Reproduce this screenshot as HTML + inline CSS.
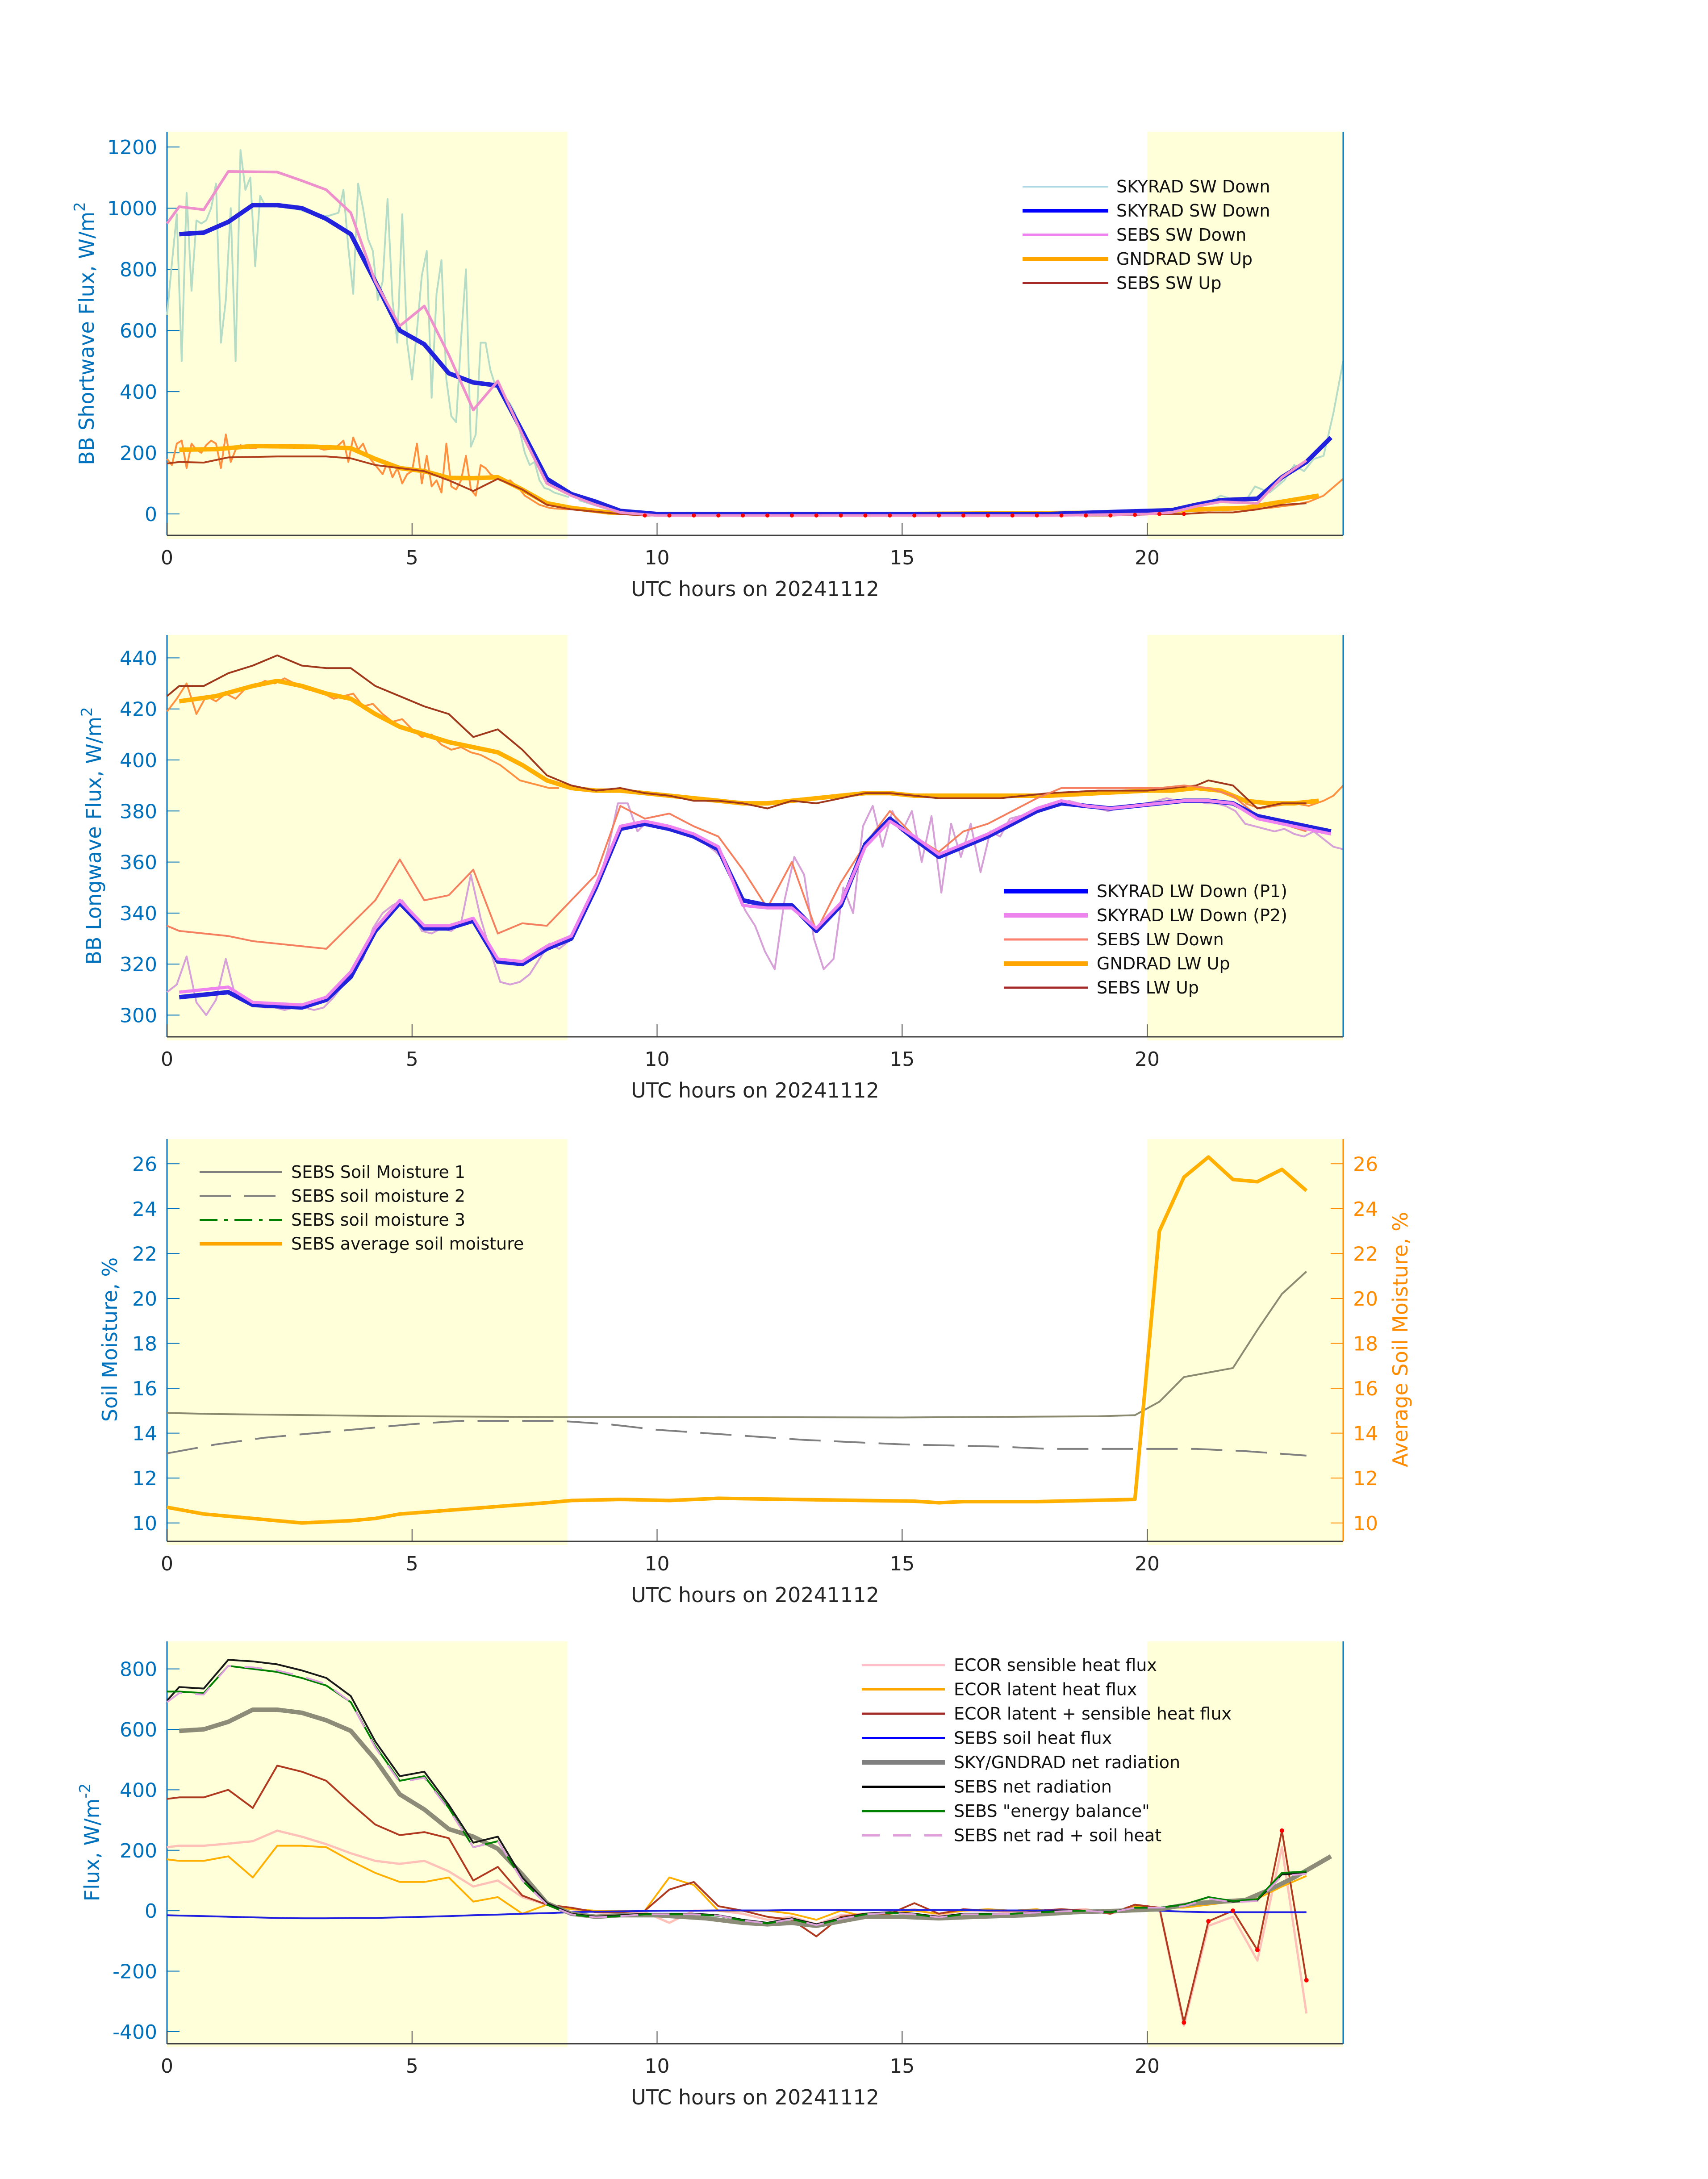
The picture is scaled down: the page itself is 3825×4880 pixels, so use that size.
<!DOCTYPE html>
<html><head><meta charset="utf-8"><style>
html,body{margin:0;padding:0;background:#fff;}
svg text{font-family:"DejaVu Sans","Liberation Sans",sans-serif;}
</style></head><body>
<svg id="fig" xmlns="http://www.w3.org/2000/svg" width="3825" height="4875" viewBox="0 0 3825 4875">
<rect width="3825" height="4875" fill="#fff"/>
</svg>
<script>
// ---------- Panel 1: shortwave ----------
const swRawStart = 0, swRawStep = 0.1;
const swRawV = [650,820,980,500,1050,730,960,950,960,1000,1080,560,700,1000,500,1190,1060,1100,810,1040,1010,1010,1005,1010,1010,1005,1000,995,990,985,980,980,975,975,980,985,1060,870,720,1080,1000,900,860,700,760,1030,700,560,980,560,440,600,780,860,380,720,830,440,320,300,570,800,220,260,560,560,470,420,410,380,360,330,270,200,160,170,110,85,80,70,65,60,55];
const swRawLateT = [8.4,8.7,9,9.5,10,15,20,20.5,21,21.3,21.5,21.8,22,22.2,22.5,22.8,23,23.2,23.4,23.6,23.8,24];
const swRawLateV = [45,30,15,5,0,0,0,5,15,40,60,45,40,90,70,110,160,140,180,190,330,500];
const skySwT = [0.25,0.75,1.25,1.75,2.25,2.75,3.25,3.75,4.25,4.75,5.25,5.75,6.25,6.75,7.25,7.75,8.25,8.75,9.25,10,12,14,16,18,19,20,20.5,21,21.5,22.25,22.75,23.25,23.75];
const skySwV = [915,920,955,1010,1010,1000,965,915,760,600,555,460,430,420,270,115,65,40,10,0,0,0,0,0,5,10,12,30,45,50,120,170,250];
const sebsSwDnT = [0,0.25,0.75,1.25,2.25,2.75,3.25,3.75,4.25,4.75,5.25,5.75,6.25,6.75,7.25,7.75,8.25,8.75,9.25,10,12,14,16,18,20,20.5,21,21.5,22.25,22.75,23.25];
const sebsSwDnV = [950,1005,995,1120,1118,1090,1060,985,760,615,680,520,340,435,260,100,60,30,5,-5,-5,-5,-5,-5,0,5,25,40,35,120,175];
const gndSwT = [0.25,1,1.75,3,3.75,4.25,4.75,5.25,5.75,6.25,6.75,7.25,7.75,8.25,9,10,15,20,21,22,22.75,23.5];
const gndSwV = [210,212,222,220,215,180,150,140,118,117,120,80,35,20,5,0,0,5,15,20,40,60];
const gndSwRawV = [180,160,230,240,150,230,210,200,225,240,230,150,260,170,210,225,220,215,215,220,220,220,218,218,220,220,215,215,215,218,218,215,210,212,215,225,240,170,250,210,230,190,170,150,130,170,120,150,100,130,140,230,100,190,90,110,70,230,90,80,110,190,80,60,160,150,130,120,110,105,110,95,80,60,50,40,30,25,20,18,17,16,15];
const gndSwRawLateT = [8.4,9,10,20,21,22,22.5,23,23.3,23.6,24];
const gndSwRawV2 = [12,5,0,0,10,15,20,30,40,60,115];
const sebsSwUpT = [0,0.25,0.75,1.25,2.25,3.25,3.75,4.25,4.75,5.25,5.75,6.25,6.75,7.25,7.75,8.25,9.25,9.75,10.25,10.75,11.25,11.75,12.25,12.75,13.25,13.75,14.25,14.75,15.25,15.75,16.25,16.75,17.25,17.75,18.25,18.75,19.25,19.75,20.25,20.75,21.25,21.75,22.25,22.75,23.25];
const sebsSwUpV = [165,170,168,185,188,188,182,160,150,140,110,75,115,80,30,15,0,-5,-5,-5,-5,-5,-5,-5,-5,-5,-5,-5,-5,-5,-5,-5,-5,-5,-5,-5,-5,-3,0,0,5,5,15,30,35];
const swTicks = [0,200,400,600,800,1000,1200];

// ---------- Panel 2: longwave ----------
const lwRawStep = 0.2;
const lwRawV = [309,312,323,305,300,306,322,307,305,304,303,303,302,303,303,302,303,307,312,318,322,334,340,343,345,340,333,332,334,333,336,355,338,325,313,312,313,316,322,328,326,329,336,345,352,365,383,383,372,376,374,373,372,371,369,367,364,360,350,341,335,325,318,345,362,355,330,318,322,350,340,374,382,366,380,372,380,360,378,348,375,362,375,356,372,370,377,378,378,380,382,382,384,383,382,381,380,381,382,382,383,384,385,384,384,384,383,383,382,380,375,374,373,372,373,371,370,372,369,366,365];
const skyLwT = [0.25,1.25,1.75,2.75,3.25,3.75,4.25,4.75,5.25,5.75,6.25,6.75,7.25,7.75,8.25,8.75,9.25,9.75,10.25,10.75,11.25,11.75,12.25,12.75,13.25,13.75,14.25,14.75,15.25,15.75,16.25,16.75,17.25,17.75,18.25,18.75,19.25,19.75,20.25,20.75,21.25,21.75,22.25,22.75,23.25,23.75];
const skyLwP1 = [307,309,304,303,306,315,333,344,334,334,337,321,320,326,330,350,373,375,373,370,365,345,343,343,333,343,367,377,369,362,366,370,375,380,383,382,381,382,383,384,384,383,378,376,374,372];
const skyLwP2 = [309,311,305,304,307,317,334,345,335,335,338,322,321,327,331,351,374,376,374,371,366,343,342,342,334,344,366,376,370,363,367,371,376,381,384,382,381,382,383,384,384,383,377,375,373,371];
const sebsLwDnT = [0,0.25,1.25,1.75,2.75,3.25,4.25,4.75,5.25,5.75,6.25,6.75,7.25,7.75,8.25,8.75,9.25,9.75,10.25,10.75,11.25,11.75,12.25,12.75,13.25,13.75,14.25,14.75,15.25,15.75,16.25,16.75,17.25,17.75,18.25,18.75,19.25,20.25,20.75,21.25,21.75,22.25,22.75,23.25];
const sebsLwDnV = [335,333,331,329,327,326,345,361,345,347,357,332,336,335,345,355,382,377,379,374,370,357,342,360,333,352,367,380,370,364,372,375,380,385,389,389,389,389,390,389,386,378,375,372];
const gndLwT = [0.25,1,1.75,2.25,2.75,3.25,3.75,4.25,4.75,5.25,5.75,6.25,6.75,7.25,7.75,8.25,8.75,9.25,9.75,10.25,10.75,11.25,11.75,12.25,12.75,13.25,13.75,14.25,14.75,15.25,15.75,16.25,17,18,19,20,20.5,21,21.5,22,22.5,23,23.5];
const gndLwV = [423,425,429,431,429,426,424,418,413,410,407,405,403,398,392,389,388,388,387,386,385,384,383,383,384,385,386,387,387,386,386,386,386,386,387,388,388,389,388,384,383,383,384];
const gndLwRawV = [419,424,430,418,425,423,426,424,428,429,431,430,432,430,428,427,426,424,425,426,421,422,418,415,416,412,409,410,406,404,405,403,402,400,398,395,392,391,390,389,389];
const gndLwRawLateT = [22,22.3,22.6,23,23.3,23.6,23.8,24];
const gndLwRawLateV = [383,381,382,383,382,384,386,390];
const sebsLwUpT = [0,0.25,0.75,1.25,1.75,2.25,2.75,3.25,3.75,4.25,4.75,5.25,5.75,6.25,6.75,7.25,7.75,8.25,8.75,9.25,9.75,10.25,10.75,11.25,11.75,12.25,12.75,13.25,13.75,14.25,14.75,15.25,15.75,16.25,17,18,19,20,21,21.25,21.75,22.25,22.75,23.25];
const sebsLwUpV = [425,429,429,434,437,441,437,436,436,429,425,421,418,409,412,404,394,390,388,389,387,386,384,384,383,381,384,383,385,387,387,386,385,385,385,387,388,388,390,392,390,381,383,383];
const lwTicks = [300,320,340,360,380,400,420,440];

// ---------- Panel 3: soil moisture ----------
const soil1T = [0,1,3,5,8,10,15,19,19.75,20.25,20.75,21.25,21.75,22.25,22.75,23.25];
const soil1V = [14.9,14.85,14.8,14.75,14.72,14.72,14.7,14.75,14.8,15.4,16.5,16.7,16.9,18.6,20.2,21.2];
const soil2T = [0,1,2,3,4,5,6,7,8,9,10,11,12,13,14,15,16,17,18,19,20,21,22,23.25];
const soil2V = [13.1,13.5,13.8,14.0,14.2,14.4,14.55,14.55,14.55,14.4,14.15,14.0,13.85,13.7,13.6,13.5,13.45,13.4,13.3,13.3,13.3,13.3,13.2,13.0];
const soilAvgT = [0,0.75,1.75,2.75,3.75,4.25,4.75,6.25,7.75,8.25,9.25,10.25,11.25,12.75,14.25,15.25,15.75,16.25,17.75,18.75,19.75,20.25,20.75,21.25,21.75,22.25,22.75,23.25];
const soilAvgV = [10.7,10.4,10.2,10.0,10.1,10.2,10.4,10.65,10.9,11.0,11.05,11.0,11.1,11.05,11.0,10.97,10.9,10.95,10.95,11.0,11.05,23.0,25.4,26.3,25.3,25.2,25.75,24.8];
const soilTicks = [10,12,14,16,18,20,22,24,26];

// ---------- Panel 4: energy fluxes ----------
const fluxT = [0,0.25,0.75,1.25,1.75,2.25,2.75,3.25,3.75,4.25,4.75,5.25,5.75,6.25,6.75,7.25,7.75,8.25,8.75,9.25,9.75,10.25,10.75,11.25,11.75,12.25,12.75,13.25,13.75,14.25,14.75,15.25,15.75,16.25,16.75,17.25,17.75,18.25,18.75,19.25,19.75,20.25,20.75,21.25,21.75,22.25,22.75,23.25];
const ecorSens = [210,215,215,222,230,265,245,220,190,165,155,165,130,80,100,45,20,5,-5,-10,-5,-40,0,0,-10,-30,-20,-45,-15,-10,-5,5,-15,0,0,-5,-5,0,5,-10,10,10,-380,-50,-20,-165,210,-340];
const ecorLat = [170,165,165,180,110,215,215,210,165,125,95,95,110,30,45,-10,20,5,0,0,0,110,85,0,0,0,-10,-30,0,-20,-10,0,-10,0,5,0,5,-10,0,-5,15,10,10,20,30,40,80,115];
const ecorSum = [370,375,375,400,340,480,460,430,355,285,250,260,240,100,145,50,20,10,-5,-5,0,70,95,15,0,-20,-30,-85,-20,-10,-10,25,-10,5,0,0,0,5,0,-10,20,10,-370,-35,0,-130,265,-230];
const soilHeat = [-15,-16,-18,-20,-22,-24,-25,-25,-24,-24,-22,-20,-18,-15,-13,-10,-8,-5,-3,-2,-1,0,0,1,1,1,2,2,2,2,2,2,2,2,1,1,1,1,0,0,0,0,-3,-5,-5,-5,-5,-5];
const sebsNet = [695,740,735,830,825,815,795,770,710,560,445,460,350,225,245,110,25,-10,-20,-15,-10,-10,-10,-15,-30,-40,-25,-45,-25,-10,-5,-10,-20,-10,-10,-10,-5,0,0,-5,10,10,20,45,30,35,120,125];
const energyBal = [725,725,720,810,800,790,770,745,690,545,430,445,340,210,230,100,20,-12,-22,-18,-12,-12,-12,-17,-32,-42,-28,-48,-27,-12,-7,-12,-22,-12,-12,-10,-6,-2,0,-6,10,10,20,45,32,38,125,130];
const netPlusSoil = [690,720,715,810,805,795,775,750,690,540,425,440,335,210,230,100,20,-12,-22,-18,-12,-12,-12,-16,-32,-42,-28,-48,-27,-12,-7,-12,-22,-12,-12,-10,-6,-2,0,-6,10,10,15,40,28,32,115,122];
const netRadT = [0.25,0.75,1.25,1.75,2.25,2.75,3.25,3.75,4.25,4.75,5.25,5.75,6.25,6.75,7.25,7.75,8.25,8.75,9.25,10,11,11.75,12.25,12.75,13.25,13.75,14.25,15,15.75,16.5,17.5,18.5,19.5,20.25,21,21.5,22,22.5,23,23.75];
const netRadV = [595,600,625,665,665,655,630,595,500,385,335,270,245,205,120,25,-10,-20,-15,-15,-25,-40,-45,-40,-50,-35,-20,-20,-25,-20,-15,-5,0,5,25,30,35,70,110,180];
const fluxTicks = [-400,-200,0,200,400,600,800];
const xTicks = [0,5,10,15,20];

// ---------- drawing ----------
const NS = 'http://www.w3.org/2000/svg';
const svg = document.getElementById('fig');
const L = 374, R = 3008;
const BLUE = '#0072BD';
function X(t){ return L + (R - L) * t / 24; }
function mk(tag, attrs, parent){
  const e = document.createElementNS(NS, tag);
  for (const k in attrs) e.setAttribute(k, attrs[k]);
  (parent || svg).appendChild(e);
  return e;
}
function makeY(top, bot, vmin, vmax){ return v => bot - (v - vmin) / (vmax - vmin) * (bot - top); }
function series(g, ts, vs, Y, color, w, name, dash){
  let d = '';
  for (let i = 0; i < ts.length && i < vs.length; i++){
    d += (i ? 'L' : 'M') + X(ts[i]).toFixed(1) + ' ' + Y(vs[i]).toFixed(1);
  }
  const p = mk('path', {d: d, fill: 'none', stroke: color, 'stroke-width': w, 'stroke-linejoin': 'round'}, g);
  if (dash) p.setAttribute('stroke-dasharray', dash);
  
  
  return p;
}
function stepTimes(start, step, n){ const a = []; for (let i = 0; i < n; i++) a.push(start + i * step); return a; }

function panel(name, top, bot, vmin, vmax, ticks){
  const g = mk('g', {});
  
  
  const Y = makeY(top, bot, vmin, vmax);
  const s1 = mk('rect', {x: X(0), y: top, width: X(8.17) - X(0), height: bot - top + 8, fill: '#FFFFDA'}, g);
  
  
  const s2 = mk('rect', {x: X(20), y: top, width: X(24) - X(20), height: bot - top + 8, fill: '#FFFFDA'}, g);
  
  
  const ax = mk('line', {x1: L, y1: bot, x2: R, y2: bot, stroke: '#404040', 'stroke-width': 3}, g);
  
  
  const ay = mk('line', {x1: L, y1: top, x2: L, y2: bot, stroke: BLUE, 'stroke-width': 3}, g);
  
  
  ticks.forEach(v => {
    const y = Y(v);
    const tk = mk('line', {x1: L, y1: y, x2: L + 28, y2: y, stroke: BLUE, 'stroke-width': 2}, g);
    
    
    const tl = mk('text', {x: L - 22, y: y + 16, 'text-anchor': 'end', 'font-size': 44, fill: BLUE}, g);
    tl.textContent = v;
    
    
  });
  xTicks.forEach(t => {
    const x = X(t);
    const tk = mk('line', {x1: x, y1: bot, x2: x, y2: bot - 28, stroke: '#404040', 'stroke-width': 2}, g);
    
    
    const tl = mk('text', {x: x, y: bot + 65, 'text-anchor': 'middle', 'font-size': 44, fill: '#262626'}, g);
    tl.textContent = t;
    
    
  });
  const xl = mk('text', {x: (L + R) / 2, y: bot + 136, 'text-anchor': 'middle', 'font-size': 46, fill: '#262626'}, g);
  xl.textContent = 'UTC hours on 20241112';
  
  
  return {g: g, Y: Y};
}
function rightAxis(g, top, bot, color){
  const a = mk('line', {x1: R, y1: top, x2: R, y2: bot, stroke: color, 'stroke-width': 3}, g);
  
  
}
function ylab(g, x, yc, main, sup, color){
  const t = mk('text', {x: 0, y: 0, 'text-anchor': 'middle', 'font-size': 46, fill: color || BLUE, transform: 'translate(' + x + ',' + yc + ') rotate(-90)'}, g);
  t.textContent = main;
  if (sup){
    const s = mk('tspan', {dy: -20, 'font-size': 34}, t);
    s.textContent = sup;
  }
  
  
  return t;
}
function legend(g, x0, x1, xt, y0, dy, items){
  items.forEach((it, i) => {
    const y = y0 + i * dy;
    const ln = mk('line', {x1: x0, y1: y, x2: x1, y2: y, stroke: it[1], 'stroke-width': it[2]}, g);
    if (it[3]) ln.setAttribute('stroke-dasharray', it[3]);
    
    
    const tx = mk('text', {x: xt, y: y + 13, 'font-size': 38, fill: '#111'}, g);
    tx.textContent = it[0];
    
    
  });
}
function dots(g, ts, vs, Y, tmin, tmax, r){
  for (let i = 0; i < ts.length; i++){
    if (ts[i] < tmin || ts[i] > tmax) continue;
    const c = mk('circle', {cx: X(ts[i]), cy: Y(vs[i]), r: r, fill: '#FF0000'}, g);
    
    
  }
}

// Panel 1
{
  const top = 295, bot = 1199;
  const p = panel('shortwave-panel', top, bot, -70, 1250, swTicks);
  const g = p.g, Y = p.Y;
  series(g, stepTimes(swRawStart, swRawStep, swRawV.length), swRawV, Y, '#B5DCC6', 4, 'skyrad-sw-down-raw');
  series(g, swRawLateT, swRawLateV, Y, '#B5DCC6', 4, 'skyrad-sw-down-raw-late');
  series(g, stepTimes(0, 0.1, gndSwRawV.length), gndSwRawV, Y, '#FF9040', 4, 'gndrad-sw-up-raw');
  series(g, gndSwRawLateT, gndSwRawV2, Y, '#FF9040', 4, 'gndrad-sw-up-raw-late');
  series(g, gndSwT, gndSwV, Y, '#FFB000', 10, 'gndrad-sw-up');
  series(g, sebsSwUpT, sebsSwUpV, Y, '#B0401C', 4, 'sebs-sw-up');
  series(g, skySwT, skySwV, Y, '#2222DD', 10, 'skyrad-sw-down');
  series(g, sebsSwDnT, sebsSwDnV, Y, '#EE90CC', 6, 'sebs-sw-down');
  dots(g, sebsSwUpT, sebsSwUpV, Y, 9.5, 21, 4.5);
  rightAxis(g, top, bot, BLUE);
  ylab(g, 210, 747, 'BB Shortwave Flux, W/m', '2');
  legend(g, 2290, 2482, 2500, 418, 54, [
    ['SKYRAD SW Down', '#ADD8E6', 4], ['SKYRAD SW Down', '#0000FF', 8], ['SEBS SW Down', '#EE82EE', 6],
    ['GNDRAD SW Up', '#FFA500', 8], ['SEBS SW Up', '#A52A2A', 4]]);
}
// Panel 2
{
  const top = 1422, bot = 2322;
  const p = panel('longwave-panel', top, bot, 291.5, 449, lwTicks);
  const g = p.g, Y = p.Y;
  const rt = stepTimes(0, lwRawStep, lwRawV.length);
  series(g, rt, lwRawV, Y, '#B5DCC6', 4, 'skyrad-lw-down-raw-p1');
  series(g, rt, lwRawV, Y, '#D8A0D8', 4, 'skyrad-lw-down-raw-p2');
  series(g, stepTimes(0, 0.2, gndLwRawV.length), gndLwRawV, Y, '#FF9040', 4, 'gndrad-lw-up-raw');
  series(g, gndLwRawLateT, gndLwRawLateV, Y, '#FF9040', 4, 'gndrad-lw-up-raw-late');
  series(g, gndLwT, gndLwV, Y, '#FFB000', 10, 'gndrad-lw-up');
  series(g, sebsLwUpT, sebsLwUpV, Y, '#A0381C', 4, 'sebs-lw-up');
  series(g, sebsLwDnT, sebsLwDnV, Y, '#F58060', 4, 'sebs-lw-down');
  series(g, skyLwT, skyLwP1, Y, '#2222DD', 10, 'skyrad-lw-down-p1');
  series(g, skyLwT, skyLwP2, Y, '#EE82EE', 7, 'skyrad-lw-down-p2');
  rightAxis(g, top, bot, BLUE);
  ylab(g, 226, 1872, 'BB Longwave Flux, W/m', '2');
  legend(g, 2248, 2436, 2456, 1996, 54, [
    ['SKYRAD LW Down (P1)', '#0000FF', 10], ['SKYRAD LW Down (P2)', '#EE82EE', 10], ['SEBS LW Down', '#FA8072', 5],
    ['GNDRAD LW Up', '#FFA500', 10], ['SEBS LW Up', '#A52A2A', 5]]);
}
// Panel 3
{
  const top = 2551, bot = 3452;
  const p = panel('soil-moisture-panel', top, bot, 9.18, 27.1, soilTicks);
  const g = p.g, Y = p.Y;
  series(g, soil1T, soil1V, Y, '#8A8A70', 4, 'sebs-soil-moisture-1');
  series(g, soil2T, soil2V, Y, '#808080', 4, 'sebs-soil-moisture-2', '70 30');
  series(g, soilAvgT, soilAvgV, Y, '#FFB000', 8, 'sebs-average-soil-moisture');
  rightAxis(g, top, bot, '#FF8C00');
  soilTicks.forEach(v => {
    const y = Y(v);
    const tk = mk('line', {x1: R, y1: y, x2: R - 28, y2: y, stroke: '#FF8C00', 'stroke-width': 2}, g);
    
    
    const tl = mk('text', {x: R + 22, y: y + 16, 'font-size': 44, fill: '#FF8C00'}, g);
    tl.textContent = v;
    
    
  });
  ylab(g, 262, 3000, 'Soil Moisture, %');
  const r = ylab(g, 3152, 3000, 'Average Soil Moisture, %', null, '#FF8C00');
  
  legend(g, 447, 632, 652, 2625, 53.5, [
    ['SEBS Soil Moisture 1', '#808080', 4], ['SEBS soil moisture 2', '#808080', 4, '70 30'],
    ['SEBS soil moisture 3', '#008000', 4, '40 15 8 15'], ['SEBS average soil moisture', '#FFA500', 8]]);
}
// Panel 4
{
  const top = 3676, bot = 4577;
  const p = panel('energy-flux-panel', top, bot, -440, 891, fluxTicks);
  const g = p.g, Y = p.Y;
  series(g, fluxT, ecorSens, Y, '#FFC0B8', 5, 'ecor-sensible-heat-flux');
  series(g, fluxT, ecorLat, Y, '#FFB000', 4, 'ecor-latent-heat-flux');
  series(g, fluxT, ecorSum, Y, '#B03A20', 4, 'ecor-latent-plus-sensible');
  series(g, fluxT, soilHeat, Y, '#2020E0', 4, 'sebs-soil-heat-flux');
  series(g, netRadT, netRadV, Y, '#8C8C78', 10, 'sky-gndrad-net-radiation');
  series(g, fluxT, sebsNet, Y, '#1A1A1A', 4, 'sebs-net-radiation');
  series(g, fluxT, energyBal, Y, '#008000', 4, 'sebs-energy-balance');
  series(g, fluxT, netPlusSoil, Y, '#DDA0DD', 4, 'sebs-net-rad-plus-soil-heat', '40 30');
  dots(g, fluxT, ecorSum, Y, 20.5, 23.5, 5);
  rightAxis(g, top, bot, BLUE);
  ylab(g, 222, 4126, 'Flux, W/m', '-2');
  legend(g, 1930, 2116, 2136, 3729, 54.5, [
    ['ECOR sensible heat flux', '#FFC0CB', 5], ['ECOR latent heat flux', '#FFA500', 5],
    ['ECOR latent + sensible heat flux', '#A52A2A', 5], ['SEBS soil heat flux', '#0000FF', 5],
    ['SKY/GNDRAD net radiation', '#808080', 10], ['SEBS net radiation', '#000000', 5],
    ['SEBS "energy balance"', '#008000', 5], ['SEBS net rad + soil heat', '#DDA0DD', 5, '40 30']]);
}
</script>
</body></html>
